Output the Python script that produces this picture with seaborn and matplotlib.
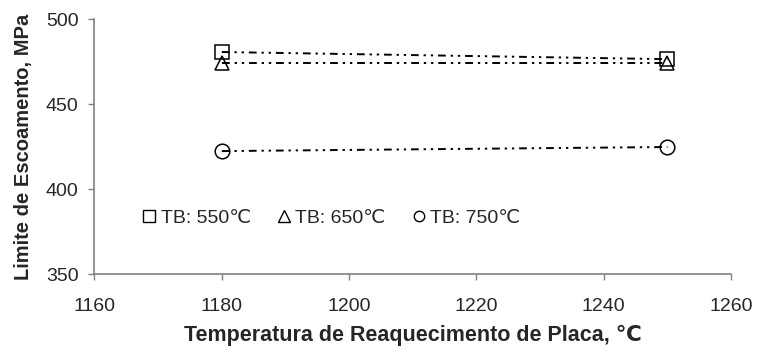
import matplotlib
matplotlib.use("Agg")
import matplotlib.pyplot as plt
import seaborn as sns
from matplotlib.lines import Line2D
import pandas as pd

# data
temps = [1180, 1250]
tb_550 = [480.7, 476.5]
tb_650 = [474, 474]
tb_750 = [422.4, 424.8]
labels = ["TB: 550\u2103", "TB: 650\u2103", "TB: 750\u2103"]
markers = ["s", "^", "o"]

sns.set_style("white")
plt.rcParams['font.family'] = ['Liberation Sans', 'DejaVu Sans']

fig = plt.figure(figsize=(7.57, 3.56), dpi=100)
ax = fig.add_axes([0.1248, 0.230, 0.841, 0.716])

dash = (0, (4, 2.5, 1.2, 2.5, 1.2, 2.5))
for vals, m in zip([tb_550, tb_650, tb_750], markers):
    df = pd.DataFrame({"T": temps, "Y": vals})
    sns.lineplot(data=df, x="T", y="Y", ax=ax, color="black", linewidth=1.4,
                 linestyle=dash, marker=m, markersize=10.5, markerfacecolor="none",
                 markeredgecolor="black", markeredgewidth=1.1)

ax.set_xlim(1160, 1260)
ax.set_ylim(350, 500)
ax.set_xticks([1160, 1180, 1200, 1220, 1240, 1260])
ax.set_yticks([350, 400, 450, 500])
ax.tick_params(direction="out", length=4.5, width=1, color="#808080",
               labelsize=14, bottom=True, left=True)
ax.tick_params(axis="x", pad=13)
ax.tick_params(axis="y", pad=7)
for s in ["top", "right"]:
    ax.spines[s].set_visible(False)
for s in ["left", "bottom"]:
    ax.spines[s].set_color("#808080")
    ax.spines[s].set_linewidth(1.2)

ax.set_xlabel("Temperatura de Reaquecimento de Placa, \u2103", fontsize=15.5,
              fontweight="bold", labelpad=7)
ax.set_ylabel("Limite de Escoamento, MPa", fontsize=14.5, fontweight="bold",
              labelpad=9)

sizes = [8.5, 8.5, 7.5]
handles = [Line2D([], [], linestyle="none", marker=m, markersize=sz,
                  markerfacecolor="none", markeredgecolor="black",
                  markeredgewidth=1) for m, sz in zip(markers, sizes)]
ax.legend(handles, labels, ncol=3, frameon=False, loc="center left",
          bbox_to_anchor=(0.061, 0.22), fontsize=14, handletextpad=0.2,
          columnspacing=1.3, handlelength=0.8, borderaxespad=0)

fig.savefig("out.png", dpi=100)
